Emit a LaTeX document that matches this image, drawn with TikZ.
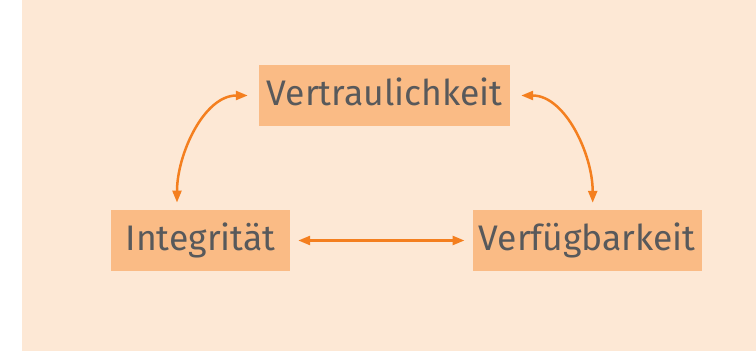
\documentclass[tikz,border=0pt]{standalone}
\usepackage{fontspec}
\setmainfont{Fira Sans}
\usetikzlibrary{arrows.meta}
\definecolor{bgpeach}{HTML}{FDE8D5}
\definecolor{boxpeach}{HTML}{FABB85}
\definecolor{arrorange}{HTML}{F47F1F}
\definecolor{txtgray}{HTML}{58595B}
\tikzset{
  x=1pt, y=1pt,
  labelbox/.style={fill=boxpeach, text=txtgray, inner sep=0pt, font=\fontsize{35.5}{42}\selectfont, text height=25pt, text depth=4pt},
  arr/.style={draw=arrorange, line width=2.5pt, {Triangle[length=12pt,width=9pt]}-{Triangle[length=12pt,width=9pt]}}
}
\begin{document}
\begin{tikzpicture}
\useasboundingbox (0,0) rectangle (756,351);
\fill[bgpeach] (22,0) rectangle (756,351);
\node[labelbox, minimum width=251pt, minimum height=61pt] (V) at (384.5,255.5) {Vertraulichkeit};
\node[labelbox, minimum width=179pt, minimum height=61.5pt] (I) at (200.5,110.5) {Integrität};
\node[labelbox, minimum width=229pt, minimum height=61pt] (F) at (587.2,110.5) {Verfügbarkeit};
\draw[arr, shorten <=7pt, shorten >=11pt] ([xshift=-23.5pt]I.north) to[out=90,in=180] (V.west);
\draw[arr, shorten <=11pt, shorten >=7pt] (V.east) to[out=0,in=90] ([xshift=5.5pt]F.north);
\draw[arr, shorten <=8pt, shorten >=8pt] (I.east) -- (F.west);
\end{tikzpicture}
\end{document}
